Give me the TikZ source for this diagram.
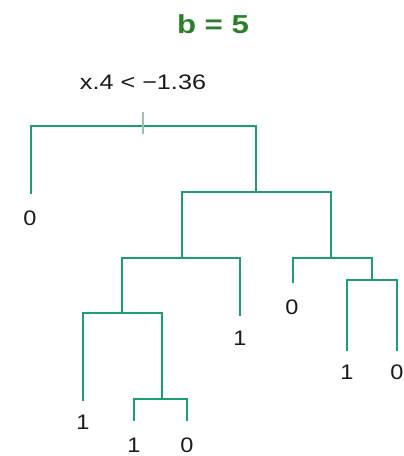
\documentclass[tikz,border=0pt]{standalone}
\usepackage{fontspec}
\setmainfont{Liberation Sans}
\definecolor{branch}{HTML}{1B9E77}
\definecolor{titlegreen}{HTML}{2A802A}
\definecolor{tickcol}{HTML}{9CC4A0}
\definecolor{txt}{HTML}{1A1A1A}
\begin{document}
\begin{tikzpicture}[x=1pt,y=-1pt,
  edge/.style={draw=branch,line width=2.9pt,line cap=rect},
  leaflab/.style={inner sep=0pt,text=txt,font=\fontsize{21}{21}\selectfont},
  splitlab/.style={inner sep=0pt,text=txt,font=\fontsize{21}{21}\selectfont},
  titlelab/.style={inner sep=0pt,text=titlegreen,font=\bfseries\fontsize{26}{26}\selectfont}]
\useasboundingbox (0,0) rectangle (404,456);
% internal nodes (bar centres)
\coordinate (n1) at (143,126);
\coordinate (n2) at (256,192);
\coordinate (n3) at (182,258);
\coordinate (n4) at (331,258);
\coordinate (n5) at (122,313);
\coordinate (n6) at (372,280);
\coordinate (n7) at (162,399);
% leaf ends
\coordinate (la) at (31,193);
\coordinate (lb) at (240,315);
\coordinate (lc) at (293,282);
\coordinate (ld) at (347,350);
\coordinate (le) at (397,350);
\coordinate (lf) at (83,400);
\coordinate (lg) at (134,420);
\coordinate (lh) at (187,420);
% texts
\node[titlelab] (title) at (213,24) {\scalebox{1.2}[1]{b = 5}};
\node[splitlab] (split) at (143,82) {\scalebox{1.2}[1]{x.4 < −1.36}};
\node[leaflab] (ta) at (30,218) {\scalebox{1.12}[1]{0}};
\node[leaflab] (tb) at (240,338) {\scalebox{1.12}[1]{1}};
\node[leaflab] (tc) at (292,307) {\scalebox{1.12}[1]{0}};
\node[leaflab] (td) at (347,372) {\scalebox{1.12}[1]{1}};
\node[leaflab] (te) at (397,372) {\scalebox{1.12}[1]{0}};
\node[leaflab] (tf) at (83,422) {\scalebox{1.12}[1]{1}};
\node[leaflab] (tg) at (134,445) {\scalebox{1.12}[1]{1}};
\node[leaflab] (th) at (187,445) {\scalebox{1.12}[1]{0}};
% branches
\draw[edge] (la) |- (n1) -| (n2);
\draw[edge] (n3) |- (n2) -| (n4);
\draw[edge] (n5) |- (n3) -| (lb);
\draw[edge] (lc) |- (n4) -| (n6);
\draw[edge] (ld) |- (n6) -| (le);
\draw[edge] (lf) |- (n5) -| (n7);
\draw[edge] (lg) |- (n7) -| (lh);
% split tick
\coordinate (tk1) at ([yshift=-8]n1);
\coordinate (tk2) at ([yshift=14]n1);
\draw[tickcol,line width=2.4pt] (tk1) -- (tk2);
\end{tikzpicture}
\end{document}
